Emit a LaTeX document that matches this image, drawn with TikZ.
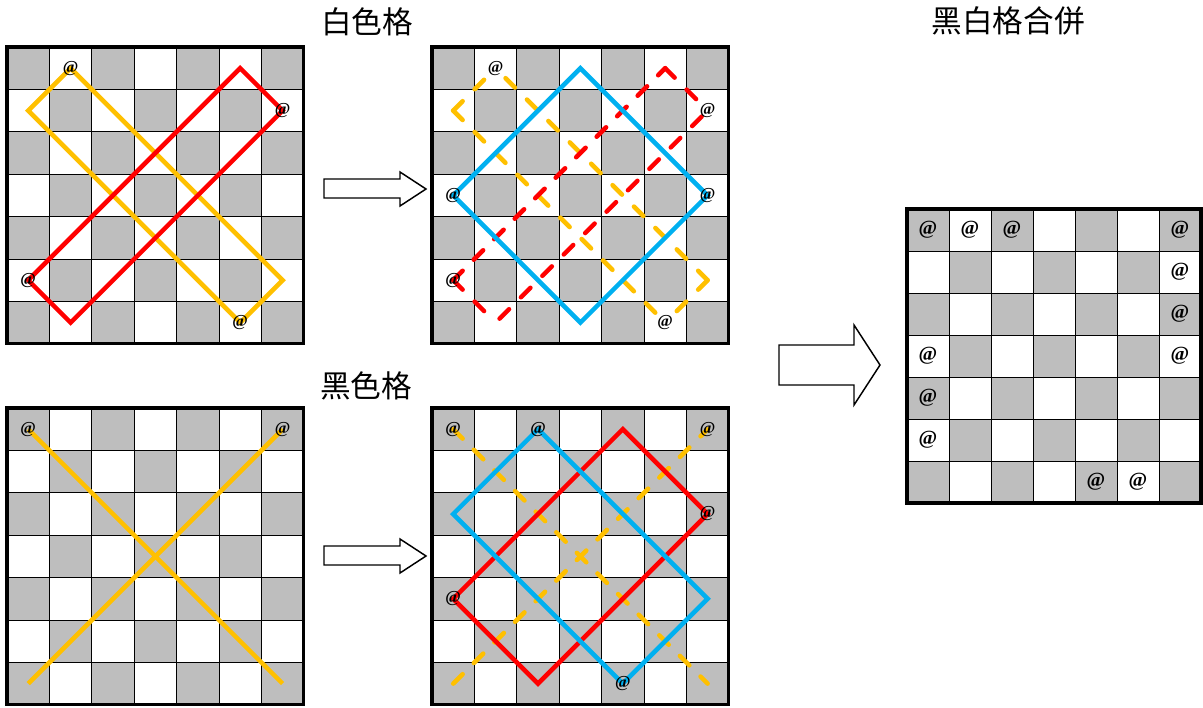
\documentclass[tikz,border=0pt]{standalone}
\usepackage{fontspec}
\setmainfont{Liberation Serif}
\newfontfamily\cjkfont{Noto Sans CJK TC}
\definecolor{cellgray}{RGB}{190,190,190}
\definecolor{lred}{RGB}{255,0,0}
\definecolor{lyel}{RGB}{255,192,0}
\definecolor{lblue}{RGB}{0,176,240}
\tikzset{
  solidline/.style={line width=3.4pt, line join=miter},
  dashline/.style={line width=3.4pt, line cap=round, dash pattern=on 10pt off 12.7pt},
  dd/.style={line width=3.4pt, line cap=round, dash pattern=on 10pt off #1},
  atmark/.style={font=\bfseries\fontsize{12.5}{12.5}\selectfont, inner sep=0pt},
  bigat/.style={font=\bfseries\fontsize{15}{15}\selectfont, inner sep=0pt},
  title/.style={font=\cjkfont\fontsize{23}{23}\selectfont, inner sep=0pt},
  blockarrow/.style={draw=black, fill=white, line width=1.1pt, line join=miter},
  gridline/.style={line width=0.75pt, black},
  boardborder/.style={line width=2.4pt, black},
}
\newcommand\drawboard{%
  \foreach \c in {0,...,6}{\foreach \r in {0,...,6}{%
    \pgfmathtruncatemacro\s{mod(\c+\r,2)}%
    \ifnum\s=0 \fill[cellgray] (\c,\r) rectangle ++(1,1);\fi}}%
  \foreach \i in {1,...,6}{\draw[gridline] (\i,0) -- (\i,7); \draw[gridline] (0,\i) -- (7,\i);}%
  \draw[boardborder] (0,0) rectangle (7,7);%
}
\begin{document}
\begin{tikzpicture}[x=0.75pt, y=-0.75pt]
\useasboundingbox (0,0) rectangle (1203,707);

% titles
\node[title] (t1) at (367,22) {白色格};
\node[title] (t2) at (366,386) {黑色格};
\node[title] (t3) at (1008,21) {黑白格合併};

% board 1 : white cells
\begin{scope}[shift={(7,47)}, x=31.8pt, y=-31.8pt]
  \drawboard
  \draw[solidline, lyel] (1.5,0.5) -- (0.5,1.5) -- (5.5,6.5) -- (6.5,5.5) -- cycle;
  \draw[solidline, lred] (5.5,0.5) -- (6.5,1.5) -- (1.5,6.5) -- (0.5,5.5) -- cycle;
  \foreach \c/\r [count=\k] in {1/0,6/1,0/5,5/6}
    \node[atmark] (a1-\k) at (\c+0.5,\r+0.5) {@};
\end{scope}

% board 2 : white cells result
\begin{scope}[shift={(432,47)}, x=31.8pt, y=-31.8pt]
  \drawboard
  \draw[dashline, lyel] (0.5,1.5) -- (1.5,0.5);
  \draw[dashline, lyel] (0.5,1.5) -- (5.5,6.5);
  \draw[dashline, lyel] (6.5,5.5) -- (5.5,6.5);
  \draw[dashline, lyel] (6.5,5.5) -- (1.5,0.5);
  \draw[dashline, lred] (5.5,0.5) -- (6.5,1.5);
  \draw[dashline, lred] (0.5,5.5) -- (1.5,6.5);
  \draw[dd=11.74pt, lred] (0.5,5.5) -- (5.5,0.5);
  \draw[dashline, lred, dash phase=16.35pt] (6.5,1.5) -- (1.5,6.5);
  \draw[solidline, lblue] (3.5,0.5) -- (6.5,3.5) -- (3.5,6.5) -- (0.5,3.5) -- cycle;
  \foreach \c/\r [count=\k] in {1/0,6/1,0/3,6/3,0/5,5/6}
    \node[atmark] (a2-\k) at (\c+0.5,\r+0.5) {@};
\end{scope}

% board 3 : black cells
\begin{scope}[shift={(7,408)}, x=31.8pt, y=-31.8pt]
  \drawboard
  \draw[solidline, lyel] (0.5,0.5) -- (6.5,6.5);
  \draw[solidline, lyel] (6.5,0.5) -- (0.5,6.5);
  \foreach \c/\r [count=\k] in {0/0,6/0}
    \node[atmark] (a3-\k) at (\c+0.5,\r+0.5) {@};
\end{scope}

% board 4 : black cells result
\begin{scope}[shift={(432,408)}, x=31.8pt, y=-31.8pt]
  \drawboard
  \draw[dd=11.86pt, lyel] (0.5,0.5) -- (6.5,6.5);
  \draw[dd=11.86pt, lyel] (0.5,6.5) -- (6.5,0.5);
  \draw[solidline, lred] (4.5,0.5) -- (6.5,2.5) -- (2.5,6.5) -- (0.5,4.5) -- cycle;
  \draw[solidline, lblue] (2.5,0.5) -- (0.5,2.5) -- (4.5,6.5) -- (6.5,4.5) -- cycle;
  \foreach \c/\r [count=\k] in {0/0,2/0,6/0,6/2,0/4,4/6}
    \node[atmark] (a4-\k) at (\c+0.5,\r+0.5) {@};
\end{scope}

% board 5 : merged
\begin{scope}[shift={(907,209)}, x=31.5pt, y=-31.5pt]
  \drawboard
  \foreach \c/\r [count=\k] in {0/0,1/0,2/0,6/0,6/1,6/2,0/3,6/3,0/4,0/5,4/6,5/6}
    \node[bigat] (a5-\k) at (\c+0.5,\r+0.5) {@};
\end{scope}

% block arrows
\draw[blockarrow] (324,179) -- (400,179) -- (400,172) -- (426,189) -- (400,206) -- (400,198) -- (324,198) -- cycle;
\draw[blockarrow] (324,546) -- (400,546) -- (400,539) -- (426,556) -- (400,573) -- (400,565) -- (324,565) -- cycle;
\draw[blockarrow] (779,345) -- (854,345) -- (854,325) -- (880,365) -- (854,405) -- (854,385) -- (779,385) -- cycle;
\end{tikzpicture}
\end{document}
